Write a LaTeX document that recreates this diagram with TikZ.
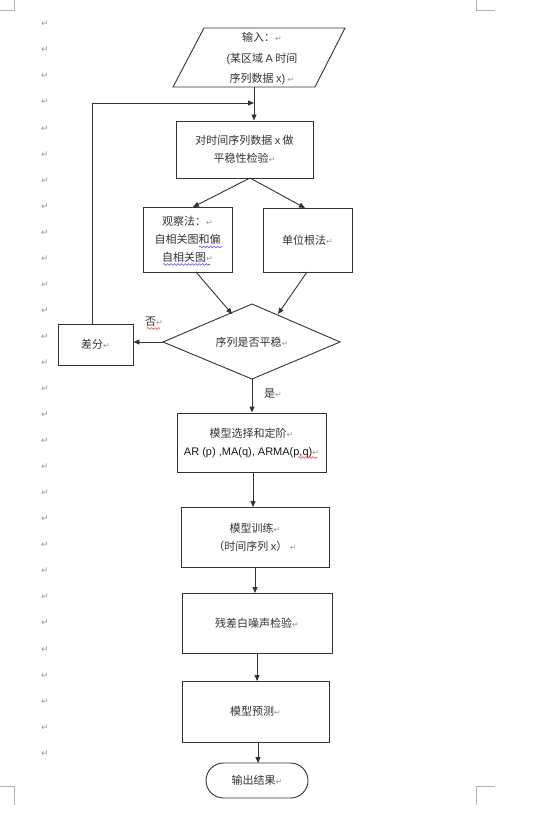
\documentclass[tikz,border=0pt]{standalone}
\usepackage{fontspec}
\setmainfont{Noto Sans CJK SC}
\newfontfamily\dv{DejaVu Sans}
\newfontfamily\lat{Liberation Sans}
\usetikzlibrary{arrows.meta,decorations.pathmorphing}
\newcommand\parmk{{\dv\color{black!40}\fontsize{8}{8}\selectfont ↵}}
\tikzset{
  ln/.style={draw=black!80, line width=0.9pt},
  arr/.style={ln, -{Triangle[length=6pt,width=5pt]}},
  box/.style={ln, rectangle, inner sep=0pt, align=center, text=black!80,
     font=\fontsize{11}{18}\selectfont},
  txt/.style={inner sep=0pt, align=center, text=black!80, font=\fontsize{11}{18}\selectfont},
  wave/.style={decorate, decoration={snake, segment length=3.5pt, amplitude=0.9pt}, line width=0.6pt},
  crop/.style={draw=black!30, line width=0.9pt},
}
\begin{document}
\begin{tikzpicture}[x=1pt,y=-1pt]
\useasboundingbox (0,0) rectangle (557,832);
\fill[white] (0,0) rectangle (557,832);
% crop marks
\draw[crop] (0,10) -- (14,10) -- (14,0);
\draw[crop] (476,0) -- (476,10) -- (495,10);
\draw[crop] (0,786) -- (14,786) -- (14,805);
\draw[crop] (495,786) -- (476,786) -- (476,805);
% margin paragraph marks
\foreach \i in {0,...,28} {
  \node[inner sep=0pt, text=black!40, font=\dv\fontsize{9}{9}\selectfont] (pm\i) at (45,{24+26.05*\i}) {↵};
}
% input parallelogram
\coordinate (pA) at (204,28);
\coordinate (pB) at (345,28);
\coordinate (pC) at (315,87);
\coordinate (pD) at (173,87);
\draw[ln, line join=miter] (pA) -- (pB) -- (pC) -- (pD) -- cycle;
\node[txt, font=\fontsize{11}{20.5}\selectfont] (in) at (262,59) {输入：\parmk\\{\lat (}某区域 {\lat A} 时间\\序列数据 {\lat x)} \parmk};
% box 1
\node[box, minimum width=137pt, minimum height=57pt] (b1) at (244.5,149.5) {对时间序列数据 {\lat x} 做\\平稳性检验\parmk};
% boxes 2,3
\node[box, minimum width=89pt, minimum height=65pt] (b2) at (187.5,239.5) {观察法：\parmk\\自相关图和偏\\自相关图\parmk};
\node[box, minimum width=89pt, minimum height=64pt] (b3) at (307.5,240) {单位根法\parmk};
% diamond
\coordinate (dT) at (252,304);
\coordinate (dL) at (163,342);
\coordinate (dR) at (340,342);
\coordinate (dB) at (252,379);
\draw[ln, line join=miter] (dT) -- (dR) -- (dB) -- (dL) -- cycle;
\node[txt] (d) at (252,342) {序列是否平稳\parmk};
% diff box
\node[box, minimum width=75pt, minimum height=41pt] (cf) at (95.5,344.5) {差分\parmk};
% lower boxes
\node[box, minimum width=149pt, minimum height=59pt] (b4) at (251.5,442.5) {模型选择和定阶\parmk\\{\lat\color{black!90}AR (p) ,MA(q), ARMA(p,q)}\parmk};
\node[box, minimum width=148pt, minimum height=60pt] (b5) at (255,537) {模型训练\parmk\\（时间序列 {\lat x}） \parmk};
\node[box, minimum width=150pt, minimum height=60pt] (b6) at (257,623) {残差白噪声检验\parmk};
\node[box, minimum width=147pt, minimum height=61pt] (b7) at (255.5,711.5) {模型预测\parmk};
\node[box, minimum width=102pt, minimum height=35pt, rounded corners=17.5pt] (out) at (257,780.5) {输出结果\parmk};
% labels
\node[txt] (no) at (154,322) {否\parmk};
\node[txt] (yes) at (273,394) {是\parmk};
% wavy underlines
\draw[wave, blue!70] (199,247) -- (222,247);
\draw[wave, blue!70] (163,264.5) -- (210,264.5);
\draw[wave, red!80] (147,328.5) -- (160,328.5);
\draw[wave, red!80] (298,457.5) -- (317,457.5);
% connectors
\coordinate (pOut) at (254,87);
\coordinate (j1) at (254,103);
\draw[arr] (pOut) -- (b1.north -| pOut);
\draw[arr] (cf.north -| 92,0) -- (92,103) -- (j1);
\draw[arr] (250,178) -- (193,207);
\draw[arr] (250,178) -- (305,208);
\draw[arr] (196,272) -- (232,314);
\draw[arr] (307,272) -- (278,314);
\draw[arr] (dL) -- (cf.east |- dL);
\draw[arr] (dB) -- (b4.north -| dB);
\draw[arr] (253,472) -- (253,507);
\draw[arr] (255,567) -- (255,593);
\draw[arr] (257,653) -- (257,681);
\draw[arr] (258,742) -- (258,763);
\end{tikzpicture}
\end{document}
